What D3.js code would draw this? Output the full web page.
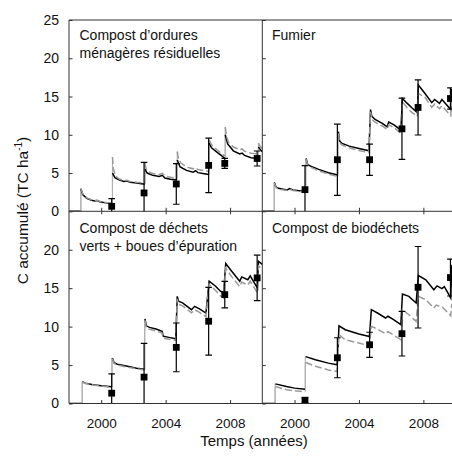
<!DOCTYPE html>
<html><head><meta charset="utf-8">
<script src="https://cdn.jsdelivr.net/npm/d3@7"></script>
<style>
body{margin:0;background:#fff}
text{font-family:"Liberation Sans",Arial,Helvetica,sans-serif;fill:#111}
</style>
</head><body>
<svg id="c" width="452" height="459"></svg>
<script>
// ---------- DATA ----------
const panelTitles = [
  ["Compost d’ordures", "ménagères résiduelles"],
  ["Fumier"],
  ["Compost de déchets", "verts + boues d’épuration"],
  ["Compost de biodéchets"]
];
const xTicks = [2000, 2004, 2008];
const yTicksTop = [0, 5, 10, 15, 20, 25];
const yTicksBottom = [0, 5, 10, 15, 20];
const xLabel = "Temps (années)";

const obsYears = [2000.65, 2002.66, 2004.66, 2006.67, 2007.67, 2009.68];
const obsCOMR  = [0.65, 2.4, 3.57, 6.0, 6.26, 6.9];
const errCOMR  = [1.0, 4.0, 2.65, 3.55, 0.65, 0.98];
const obsFUM   = [2.83, 6.74, 6.74, 10.78, 13.57, 14.74];
const errFUM   = [3.13, 4.65, 2.05, 4.0, 3.6, 1.4];
const obsDVB   = [1.34, 3.43, 7.3, 10.7, 14.16, 16.34];
const errDVB   = [2.52, 4.39, 3.17, 4.4, 1.72, 2.95];
const obsBIO   = [0.43, 5.95, 7.64, 9.08, 15.12, 16.38];
const errBIO   = [0.3, 2.6, 1.63, 2.9, 5.3, 2.4];

// model curves [year, C] — black solid
const solidCOMR = [[1998,0],[1998.72,0],[1998.74,2.9],[1998.85,2.2],[1999.1,1.7],[1999.4,1.45],[1999.6,1.35],[1999.75,1.4],[1999.9,1.25],[2000.3,1.1],[2000.68,1.0],
  [2000.70,5.0],[2000.85,4.4],[2001.1,4.1],[2001.4,3.9],[2001.6,3.95],[2001.8,3.8],[2002.2,3.7],[2002.7,3.55],
  [2002.72,5.5],[2002.85,5.0],[2003.2,4.7],[2003.6,4.55],[2003.8,4.7],[2003.95,4.35],[2004.3,4.2],[2004.7,4.1],
  [2004.72,6.7],[2004.9,5.8],[2005.3,5.35],[2005.7,5.1],[2005.85,5.3],[2006.0,5.05],[2006.4,4.9],[2006.68,4.8],
  [2006.70,8.9],[2006.85,8.3],[2007.2,7.7],[2007.45,7.3],[2007.68,6.9],
  [2007.70,10.0],[2007.85,8.8],[2008.2,7.9],[2008.6,7.5],[2008.75,7.6],[2008.9,7.3],[2009.3,7.0],[2009.74,6.9],
  [2009.76,8.4],[2009.9,8.0],[2010,7.8]];
const dashCOMR = [[1998,0],[1998.72,0],[1998.74,3.0],[1998.85,2.3],[1999.1,1.75],[1999.4,1.5],[1999.6,1.4],[1999.75,1.45],[1999.9,1.3],[2000.3,1.15],[2000.68,1.05],
  [2000.70,7.1],[2000.76,5.5],[2000.9,4.6],[2001.1,4.25],[2001.4,4.0],[2001.6,4.05],[2001.8,3.9],[2002.2,3.8],[2002.7,3.7],
  [2002.72,6.3],[2002.78,5.6],[2002.9,5.2],[2003.2,4.95],[2003.6,4.8],[2003.8,4.95],[2003.95,4.6],[2004.3,4.45],[2004.7,4.35],
  [2004.72,7.8],[2004.8,6.8],[2004.95,6.3],[2005.3,5.8],[2005.7,5.55],[2005.85,5.7],[2006.0,5.45],[2006.4,5.3],[2006.68,5.2],
  [2006.70,9.3],[2006.85,8.7],[2007.2,8.0],[2007.45,7.6],[2007.68,7.2],
  [2007.70,11.0],[2007.78,9.8],[2007.9,9.0],[2008.2,8.4],[2008.6,8.05],[2008.75,8.15],[2008.9,7.85],[2009.3,7.6],[2009.74,7.5],
  [2009.76,8.9],[2009.9,8.4],[2010,8.2]];

const solidFUM = [[1998,0],[1998.72,0],[1998.75,3.75],[1998.85,3.2],[1999.0,3.0],[1999.3,2.87],[1999.55,2.8],[1999.7,2.97],[1999.9,2.8],[2000.3,2.7],[2000.68,2.6],
  [2000.72,6.9],[2000.82,6.1],[2001.0,5.9],[2001.5,5.48],[2002.1,5.04],[2002.68,4.74],
  [2002.72,10.4],[2002.8,9.2],[2002.95,8.87],[2003.4,8.52],[2004.0,8.22],[2004.62,7.91],
  [2004.72,13.3],[2004.8,12.4],[2005.0,12.0],[2005.45,11.5],[2005.75,11.05],[2005.85,11.66],[2006.2,11.26],[2006.6,10.6],
  [2006.70,14.75],[2007.0,14.1],[2007.3,13.5],[2007.62,12.9],
  [2007.69,16.5],[2008.1,15.4],[2008.52,14.2],[2008.7,14.62],[2009.0,14.1],[2009.15,14.6],[2009.7,13.3],
  [2009.76,15.9],[2010,15.7]];
const dashFUM = [[1998,0],[1998.72,0],[1998.75,3.7],[1998.85,3.1],[1999.0,2.9],[1999.3,2.8],[1999.55,2.72],[1999.7,2.88],[1999.9,2.7],[2000.3,2.6],[2000.68,2.5],
  [2000.72,6.8],[2000.82,6.0],[2001.0,5.75],[2001.5,5.3],[2002.1,4.85],[2002.68,4.55],
  [2002.72,10.2],[2002.8,9.0],[2002.95,8.65],[2003.4,8.3],[2004.0,7.95],[2004.62,7.65],
  [2004.72,13.0],[2004.8,12.0],[2005.0,11.65],[2005.45,11.15],[2005.75,10.7],[2005.85,11.3],[2006.2,10.9],[2006.6,10.2],
  [2006.70,14.3],[2007.0,13.5],[2007.3,12.9],[2007.62,12.4],
  [2007.69,15.4],[2008.1,14.9],[2008.52,13.6],[2008.7,14.0],[2009.0,13.4],[2009.15,13.8],[2009.7,12.5],
  [2009.76,15.1],[2010,14.9]];

const solidDVB = [[1998,0],[1998.8,0],[1998.83,2.85],[1999.0,2.65],[1999.5,2.45],[2000.0,2.3],[2000.65,2.19],
  [2000.69,5.9],[2000.8,5.3],[2001.0,5.1],[2001.7,4.8],[2002.2,4.6],[2002.68,4.46],
  [2002.72,11.0],[2002.8,10.1],[2003.0,9.9],[2003.4,9.7],[2003.78,9.4],[2003.85,8.75],[2004.2,8.6],[2004.63,8.42],
  [2004.72,13.94],[2004.8,13.3],[2005.05,13.1],[2005.6,12.2],[2005.8,12.64],[2006.1,12.3],[2006.5,11.77],
  [2006.70,15.9],[2007.1,15.25],[2007.4,14.6],[2007.6,14.38],
  [2007.73,18.2],[2008.1,17.2],[2008.6,15.9],[2008.72,16.47],[2009.1,16.1],[2009.25,16.6],[2009.7,15.0],
  [2009.76,18.5],[2010,18.1]];
const dashDVB = [[1998,0],[1998.8,0],[1998.83,2.8],[1999.0,2.6],[1999.5,2.4],[2000.0,2.25],[2000.65,2.12],
  [2000.69,5.85],[2000.8,5.2],[2001.0,5.0],[2001.7,4.7],[2002.2,4.5],[2002.68,4.35],
  [2002.72,10.8],[2002.8,9.8],[2003.0,9.65],[2003.4,9.45],[2003.78,9.15],[2003.85,8.5],[2004.2,8.35],[2004.63,8.2],
  [2004.72,13.6],[2004.8,12.9],[2005.05,12.7],[2005.6,11.8],[2005.8,12.2],[2006.1,11.85],[2006.5,11.3],
  [2006.70,15.47],[2007.1,14.7],[2007.4,14.0],[2007.6,13.73],
  [2007.73,17.6],[2008.1,16.5],[2008.6,15.2],[2008.72,15.8],[2009.1,15.4],[2009.25,15.9],[2009.7,14.4],
  [2009.76,17.9],[2010,17.5]];

const solidBIO = [[1998,0],[1998.78,0],[1998.81,2.55],[1999.5,2.2],[2000.0,2.0],[2000.65,1.85],
  [2000.69,6.1],[2001.3,5.68],[2002.1,5.25],[2002.65,5.03],
  [2002.76,10.1],[2003.15,9.6],[2004.0,9.03],[2004.65,8.72],
  [2004.77,12.2],[2005.15,11.77],[2005.65,11.12],[2005.8,11.35],[2006.15,10.9],[2006.6,10.25],
  [2006.70,14.25],[2007.1,13.94],[2007.55,13.08],
  [2007.69,16.64],[2008.15,16.1],[2008.65,14.8],[2008.85,15.3],[2009.15,14.95],[2009.3,15.2],[2009.7,13.73],
  [2009.76,17.9],[2010,17.6]];
const dashBIO = [[1998,0],[1998.78,0],[1998.81,2.2],[1999.5,1.8],[2000.0,1.65],[2000.65,1.54],
  [2000.69,5.33],[2001.3,4.85],[2002.1,4.37],[2002.65,4.15],
  [2002.76,8.94],[2003.15,8.29],[2004.0,7.86],[2004.65,7.5],
  [2004.77,10.03],[2005.15,9.68],[2005.65,9.07],[2005.8,9.35],[2006.15,8.9],[2006.6,8.29],
  [2006.70,12.2],[2007.1,11.55],[2007.55,10.68],
  [2007.69,13.94],[2008.15,13.5],[2008.65,12.4],[2008.8,12.8],[2009.2,12.5],[2009.7,11.42],
  [2009.76,12.86],[2010,12.7]];

// ---------- LAYOUT ----------
const svg = d3.select("#c");
const L = 69, M = 262.3, PW = 193.3;
const T = 20, MID = 211.3, B = 403.5;
const FONT = "'Liberation Sans',Arial,sans-serif";
const boxes = [
  {x0: L, y0: T, y1: MID, obs: obsCOMR, err: errCOMR, solid: solidCOMR, dash: dashCOMR},
  {x0: M, y0: T, y1: MID, obs: obsFUM, err: errFUM, solid: solidFUM, dash: dashFUM},
  {x0: L, y0: MID, y1: B, obs: obsDVB, err: errDVB, solid: solidDVB, dash: dashDVB},
  {x0: M, y0: MID, y1: B, obs: obsBIO, err: errBIO, solid: solidBIO, dash: dashBIO}
];

// split a curve at its vertical jumps (application dates)
function splitCurve(data) {
  const segs = [[data[0]]], jumps = [];
  for (let k = 1; k < data.length; k++) {
    const a = data[k - 1], b = data[k];
    if (b[0] - a[0] < 0.05 && Math.abs(b[1] - a[1]) > 0.8) {
      jumps.push([a[0], a[1], b[1]]);
      segs.push([b]);
    } else segs[segs.length - 1].push(b);
  }
  return {segs, jumps};
}

boxes.forEach((p, i) => {
  const x = d3.scaleLinear().domain([1998, 2010]).range([p.x0, p.x0 + PW]);
  const y = d3.scaleLinear().domain([0, 25]).range([p.y1, p.y0]);
  const cid = "clip" + i;
  svg.append("clipPath").attr("id", cid).append("rect")
    .attr("x", p.x0).attr("y", p.y0).attr("width", PW).attr("height", p.y1 - p.y0);
  const g = svg.append("g").attr("clip-path", `url(#${cid})`);
  const line = d3.line().x(d => x(d[0])).y(d => y(d[1]));

  const s = splitCurve(p.solid), dsh = splitCurve(p.dash);
  // vertical jumps: thin light grey
  g.selectAll("line.jump").data(s.jumps.concat(dsh.jumps)).enter().append("line")
    .attr("x1", d => x(d[0]) + 0.3).attr("x2", d => x(d[0]) + 0.3)
    .attr("y1", d => y(d[1])).attr("y2", d => y(d[2]))
    .attr("stroke", "#b0b0b0").attr("stroke-width", 1.1);
  g.selectAll("path.solid").data(s.segs).enter().append("path").attr("d", line)
    .attr("fill", "none").attr("stroke", "#000").attr("stroke-width", 1.5);
  g.selectAll("path.dash").data(dsh.segs).enter().append("path").attr("d", line)
    .attr("fill", "none").attr("stroke", "#9a9a9a").attr("stroke-width", 1.5)
    .attr("stroke-dasharray", "7,3");

  const obs = obsYears.map((yr, k) => ({yr, v: p.obs[k], e: p.err[k]}));
  const eb = g.selectAll("g.eb").data(obs).enter().append("g");
  eb.append("line").attr("x1", d => x(d.yr)).attr("x2", d => x(d.yr))
    .attr("y1", d => y(d.v - d.e)).attr("y2", d => y(d.v + d.e))
    .attr("stroke", "#000").attr("stroke-width", 1.2);
  [1, -1].forEach(sg => {
    eb.append("line").attr("x1", d => x(d.yr) - 3.3).attr("x2", d => x(d.yr) + 3.3)
      .attr("y1", d => y(d.v + sg * d.e)).attr("y2", d => y(d.v + sg * d.e))
      .attr("stroke", "#000").attr("stroke-width", 1.2);
  });
  eb.append("rect").attr("x", d => x(d.yr) - 3.4).attr("y", d => y(d.v) - 3.4)
    .attr("width", 6.8).attr("height", 6.8).attr("fill", "#000");

  // axes (inward ticks)
  const isLeft = p.x0 === L, isBottom = p.y1 === B;
  const yAx = d3.axisLeft(y).tickValues(p.y0 === T ? yTicksTop : yTicksBottom)
    .tickSize(-3.5).tickPadding(10).tickFormat(d3.format("d"));
  if (!isLeft) yAx.tickFormat("");
  const ya = svg.append("g").attr("transform", `translate(${p.x0},0)`).call(yAx);
  ya.select(".domain").remove();
  ya.selectAll("line").attr("stroke", "#333");
  ya.selectAll("text").attr("font-size", 14).attr("fill", "#111").attr("font-family", FONT);

  const xAx = d3.axisBottom(x).tickValues(xTicks).tickSize(-3.5).tickFormat(d3.format("d"));
  if (!isBottom) xAx.tickFormat("");
  const xa = svg.append("g").attr("transform", `translate(0,${p.y1})`).call(xAx);
  xa.select(".domain").remove();
  xa.selectAll("line").attr("stroke", "#333");
  xa.selectAll("text").attr("y", 24.5).attr("dy", 0).attr("font-size", 13.5)
    .attr("fill", "#111").attr("font-family", FONT);
  if (p.y0 === MID) {
    const xt = svg.append("g").attr("transform", `translate(0,${p.y0})`)
      .call(d3.axisTop(x).tickValues(xTicks).tickSize(-3).tickFormat(""));
    xt.select(".domain").remove();
    xt.selectAll("line").attr("stroke", "#333");
  }

  // title
  const tx = p.x0 + (isLeft ? 10.5 : 9.7);
  const tt = svg.append("text").attr("x", tx)
    .attr("y", p.y0 + (p.y0 === T ? 19.5 : 21.5)).attr("font-size", 14);
  panelTitles[i].forEach((str, k) => {
    tt.append("tspan").attr("x", tx).attr("dy", k === 0 ? 0 : 18).text(str);
  });
});

// frame
const fr = svg.append("g").attr("stroke", "#333").attr("stroke-width", 1).attr("fill", "none");
fr.append("line").attr("x1", L).attr("x2", 452).attr("y1", T).attr("y2", T);
fr.append("line").attr("x1", L).attr("x2", 452).attr("y1", MID).attr("y2", MID);
fr.append("line").attr("x1", L).attr("x2", 452).attr("y1", B).attr("y2", B);
fr.append("line").attr("x1", L).attr("x2", L).attr("y1", T).attr("y2", B);
fr.append("line").attr("x1", M).attr("x2", M).attr("y1", T).attr("y2", B);

// axis titles
svg.append("text").attr("x", 254).attr("y", 445.5).attr("text-anchor", "middle")
  .attr("font-size", 15).text(xLabel);
const yl = svg.append("text").attr("transform", "translate(27.5,210.5) rotate(-90)")
  .attr("text-anchor", "middle").attr("font-size", 15.5);
yl.append("tspan").text("C accumulé (TC ha");
yl.append("tspan").attr("font-size", 10).attr("dy", -6).text("-1");
yl.append("tspan").attr("dy", 6).text(")");
</script>
</body></html>
